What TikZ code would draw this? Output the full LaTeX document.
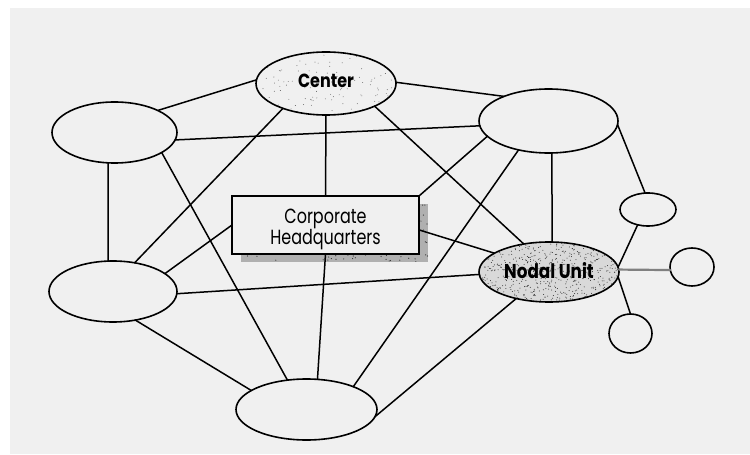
\documentclass[tikz,border=0pt]{standalone}
\usepackage{fontspec}
\setmainfont{Poppins}
\newfontfamily\narrowfont[FakeStretch=0.84]{Poppins}
\newfontfamily\hqfont[FakeStretch=0.78]{Poppins}
\usetikzlibrary{shapes.geometric,backgrounds,calc}
\definecolor{paper}{HTML}{F0F0F0}
\definecolor{speck}{HTML}{303030}

\begin{document}
\begin{tikzpicture}[x=1bp,y=-1bp,
  every node/.style={inner sep=0pt, outer sep=0pt},
  unit/.style={ellipse, draw, line width=1.6bp},
  hq/.style={rectangle, draw, line width=1.6bp, fill=paper},
  link/.style={line width=1.5bp, line cap=round},
  boldlabel/.style={font=\narrowfont\bfseries\fontsize{19bp}{19bp}\selectfont},
  hqlabel/.style={font=\hqfont\fontsize{20.5bp}{19bp}\selectfont, align=center}]

\useasboundingbox (0,0) rectangle (750,455);

% units of the network
\node[unit, boldlabel, minimum width=140bp, minimum height=63bp, text depth=5bp] (C) at (326,83.5) {Center};
\node[unit, minimum width=125bp, minimum height=61bp] (TL) at (114.5,132.5) {};
\node[unit, minimum width=139bp, minimum height=64bp] (TR) at (548.5,121) {};
\node[unit, minimum width=56bp, minimum height=33bp] (SE) at (648,209.5) {};
\node[hq, hqlabel, minimum width=187bp, minimum height=58bp, text height=46bp, text depth=6bp] (HQ) at (325.5,225) {Corporate\\Headquarters};
\node[unit, minimum width=128bp, minimum height=61bp] (ML) at (113,291.5) {};
\node[unit, minimum width=141bp, minimum height=61bp] (B) at (306.5,409.5) {};
\node[unit, boldlabel, font=\narrowfont\bfseries\fontsize{20bp}{20bp}\selectfont, minimum width=140bp, minimum height=60bp, text depth=3bp] (NU) at (549,272) {Nodal Unit};
\node[unit, minimum width=44bp, minimum height=38bp] (RC) at (692,267) {};
\node[unit, minimum width=43bp, minimum height=39bp] (LC) at (630.5,333.5) {};

% paper, shadow and stippled fills
\begin{scope}[on background layer]
  \fill[white] (0,0) rectangle (750,455);
  \fill[paper] (10,8) rectangle (750,454);
  \pgfmathsetseed{4711}
  % drop shadow of the headquarters box
  \fill[gray!62] ($(HQ.south west)+(9,8)$) rectangle ($(HQ.north east)+(9,8)$);
  \begin{scope}
    \clip ($(HQ.south west)+(9,8)$) rectangle ($(HQ.north east)+(9,8)$);
    \foreach \i in {1,...,260}
      \fill[speck] ($(HQ.center)+(9,8)+(94*rand,29*rand)$) circle[radius=0.6bp];
  \end{scope}
  % light stipple of the center
  \fill[gray!12] (C.center) ellipse[x radius=70bp, y radius=31.5bp];
  \begin{scope}
    \clip (C.center) ellipse[x radius=70bp, y radius=31.5bp];
    \foreach \i in {1,...,140}
      \fill[gray!70!black] ($(C.center)+(70*rand,31.5*rand)$) circle[radius=0.45bp];
  \end{scope}
  % dense stipple of the nodal unit
  \fill[gray!30] (NU.center) ellipse[x radius=70bp, y radius=30bp];
  \begin{scope}
    \clip (NU.center) ellipse[x radius=70bp, y radius=30bp];
    \foreach \i in {1,...,650}
      \fill[speck] ($(NU.center)+(70*rand,30*rand)$) circle[radius=0.5bp];
  \end{scope}
\end{scope}

% connections
\draw[link] (C.177) -- (TL.27);
\draw[link] (C.1) -- (TR.151);
\draw[link] (C.south) -- (HQ.north);
\draw[link] (C.210) -- (ML.53);
\draw[link] (C.-25) -- (NU.132);
\draw[link] (TL.-7) -- (TR.184);
\draw[link] (TL.258) -- (ML.99);
\draw[link] (TL.-23) -- (B.123);
\draw[link] (TR.194) -- (HQ.north east);
\draw[link] (TR.224) -- (B.26);
\draw[link] (TR.276) -- (NU.84);
\draw[link] (TR.-3) -- (SE.100);
\draw[link] (HQ.west) -- (ML.19);
\draw[link] (HQ.-3) -- (NU.161);
\draw[link] (HQ.south) -- (B.70);
\draw[link] (ML.-2) -- (NU.182);
\draw[link] (ML.-52) -- (B.161);
\draw[link] (NU.219) -- (B.-6);
\draw[link, gray, line width=2.2bp] (NU.2) -- (RC.188);
\draw[link] (NU.-4) -- (LC.north);
\draw[link] (SE.236) -- (NU.4);
\end{tikzpicture}
\end{document}
